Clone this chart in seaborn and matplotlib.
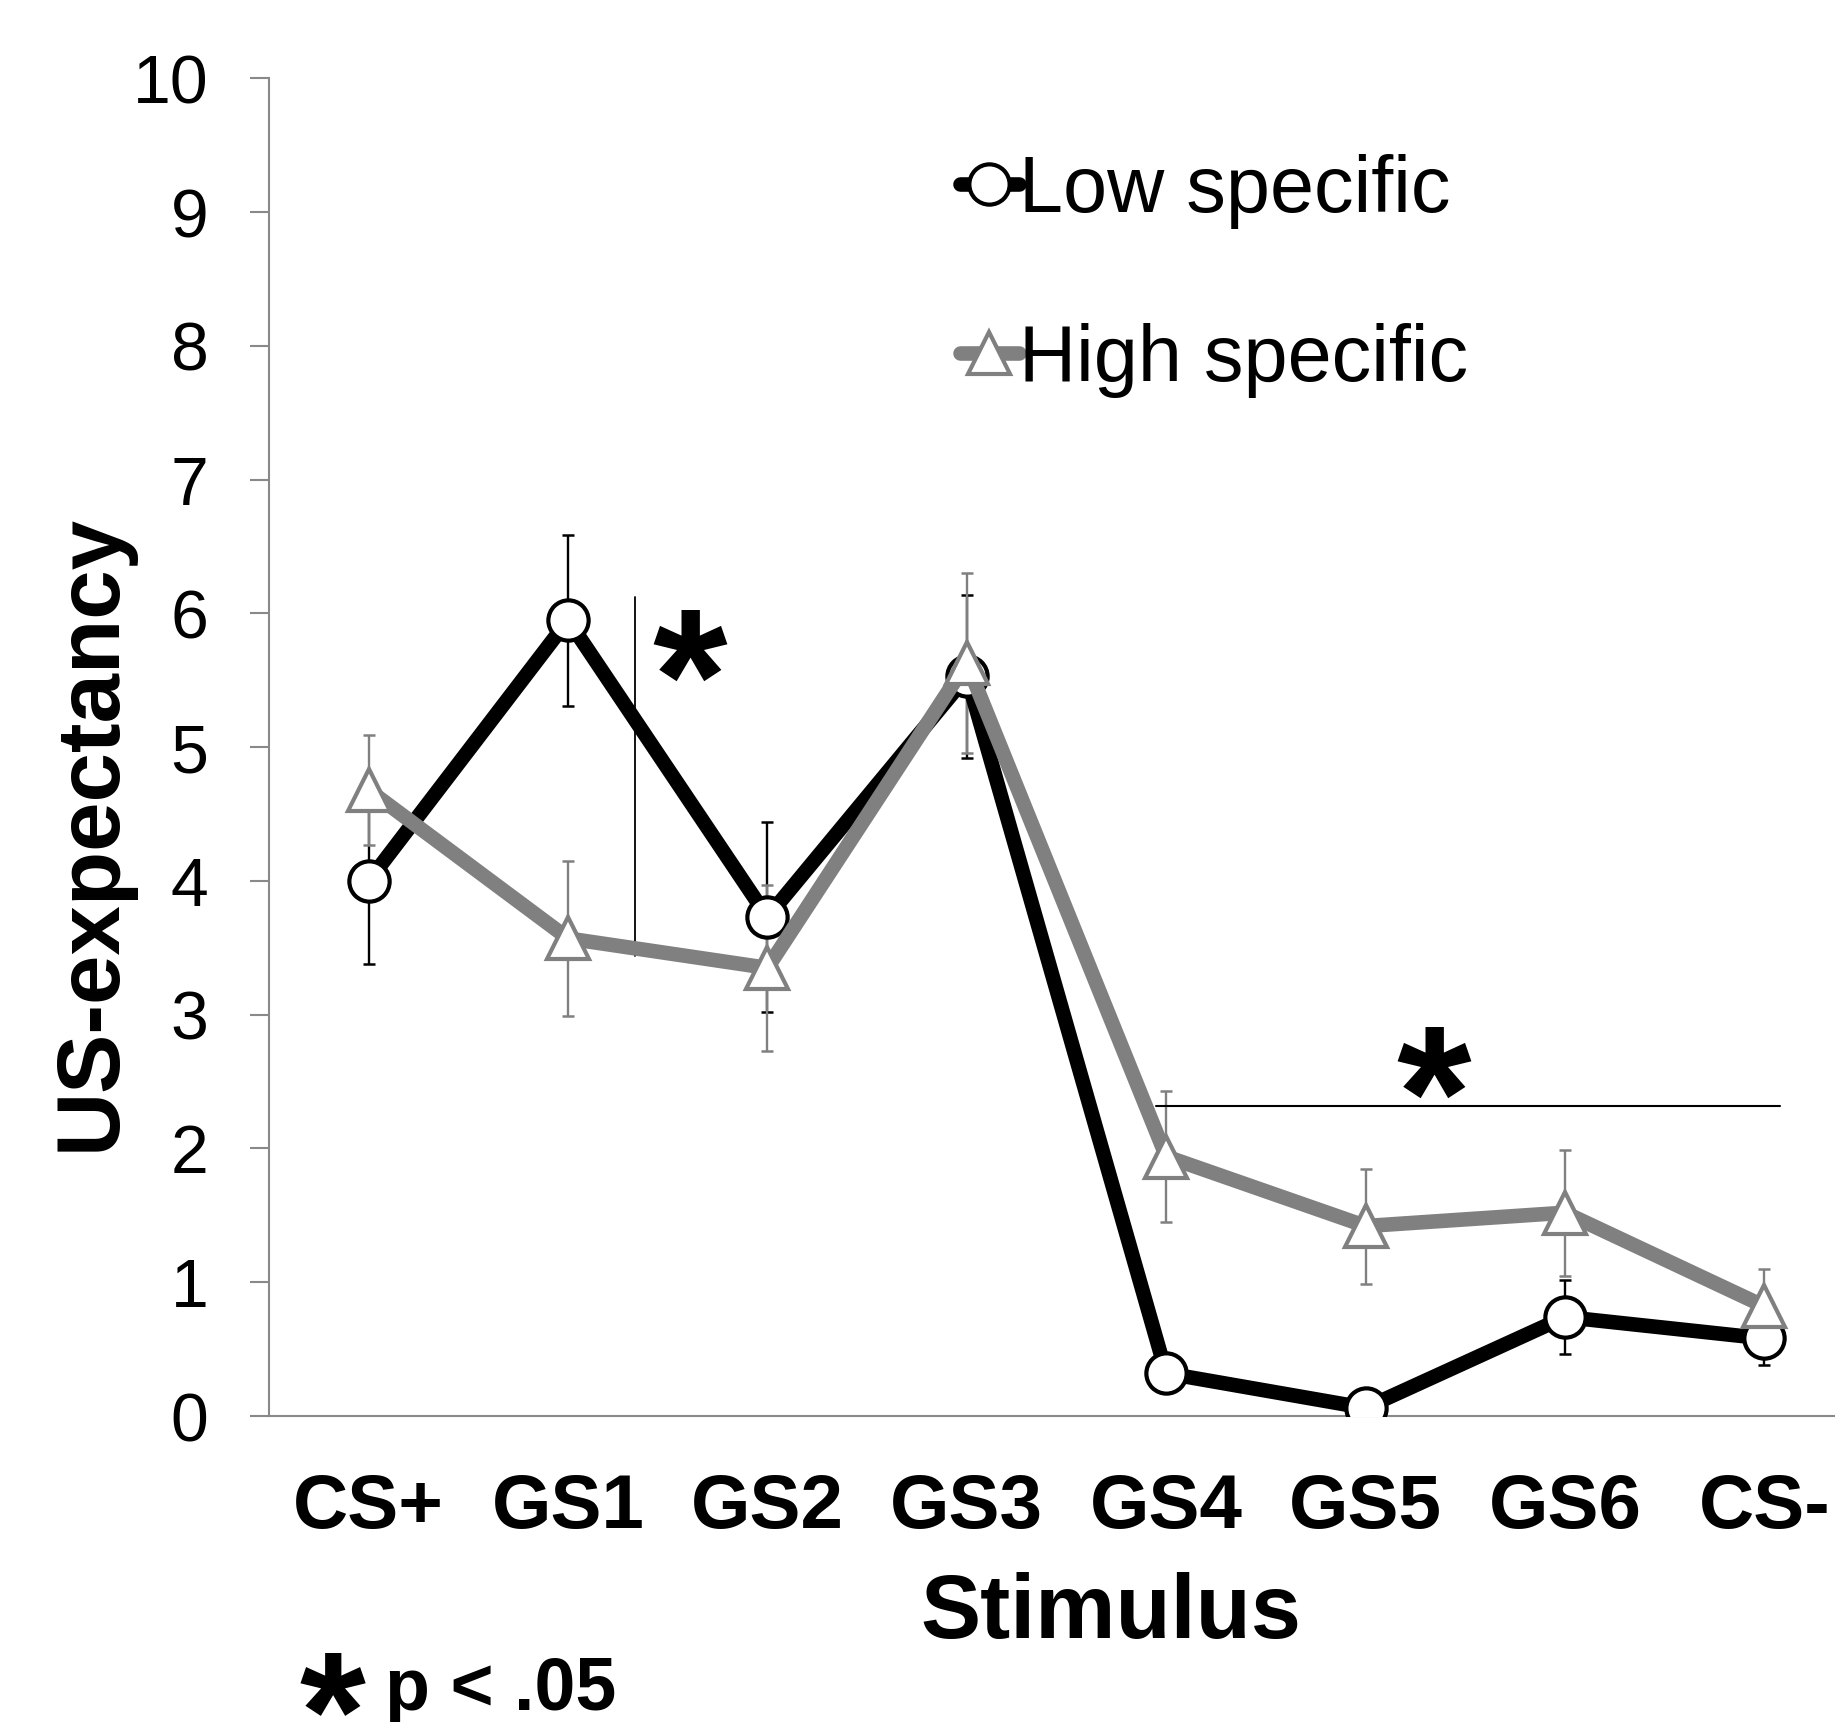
'''
Courbes de generalisation : US-expectancy par stimulus, deux groupes.
'''

import matplotlib
matplotlib.use("Agg")
import matplotlib.pyplot as plt
import numpy as np
import pandas as pd
import seaborn as sns

# Donnees
stimuli = ["CS+", "GS1", "GS2", "GS3", "GS4", "GS5", "GS6", "CS-"]
low_mean = [4.00, 5.95, 3.73, 5.53, 0.32, 0.06, 0.74, 0.58]
low_err = [0.62, 0.64, 0.71, 0.61, 0.12, 0.04, 0.28, 0.20]
high_mean = [4.68, 3.57, 3.35, 5.63, 1.94, 1.42, 1.52, 0.82]
high_err = [0.41, 0.58, 0.62, 0.67, 0.49, 0.43, 0.47, 0.28]

# Annotations de significativite (position en unites de categorie / y)
sig_vline_x = 1.335
sig_vline_y = [3.44, 6.12]
sig_hline_x = [3.95, 7.08]
sig_hline_y = 2.32
star_pos = [(1.61, 5.83), (5.34, 2.71)]

BLACK = "#000000"
GREY = "#808080"
AXIS_GREY = "#898989"

sns.set_theme(style="white")
plt.rcParams["font.family"] = ["Liberation Sans", "DejaVu Sans"]
plt.rcParams["text.color"] = BLACK
plt.rcParams["axes.labelcolor"] = BLACK
plt.rcParams["xtick.color"] = BLACK
plt.rcParams["ytick.color"] = BLACK

xpos = np.arange(len(stimuli))
df = pd.DataFrame({
    "pos": np.concatenate([xpos, xpos]),
    "value": low_mean + high_mean,
    "group": ["Low specific"] * len(stimuli) + ["High specific"] * len(stimuli),
})

fig = plt.figure(figsize=(18.35, 17.22), dpi=100)
ax = fig.add_axes([0.14659, 0.17770, 0.86921, 0.77677])

# barres d'erreur sous les courbes
ax.errorbar(xpos, low_mean, yerr=low_err, fmt="none", ecolor=BLACK,
            elinewidth=1.7, capsize=4.5, capthick=1.8, zorder=1)
ax.errorbar(xpos, high_mean, yerr=high_err, fmt="none", ecolor=GREY,
            elinewidth=1.7, capsize=4.5, capthick=1.8, zorder=1.1)

styles = {
    "Low specific": dict(color=BLACK, marker="o", ms=29),
    "High specific": dict(color=GREY, marker="^", ms=30),
}
for i, (name, st) in enumerate(styles.items()):
    sub = df[df["group"] == name]
    sns.lineplot(data=sub, x="pos", y="value", ax=ax, color=st["color"],
                 marker=st["marker"], markersize=st["ms"], markerfacecolor="white",
                 markeredgecolor=st["color"], markeredgewidth=3.0,
                 linewidth=10.5, label=name, zorder=3 + i, legend=False)

# lignes de significativite
ax.plot([sig_vline_x, sig_vline_x], sig_vline_y, color=BLACK, lw=1.3, zorder=2)
ax.plot(sig_hline_x, [sig_hline_y, sig_hline_y], color=BLACK, lw=1.5, zorder=2)
for sx, sy in star_pos:
    ax.annotate("*", xy=(sx, sy), xytext=(0, -76), textcoords="offset points",
                ha="center", va="baseline", fontsize=138, fontweight="bold")

ax.set_xlim(-0.5, 7.5)
ax.set_ylim(0, 10)
ax.set_yticks(range(0, 11))
ax.set_xticks(xpos)
ax.set_xticklabels(stimuli, fontsize=55, fontweight="bold")
ax.tick_params(axis="y", direction="out", length=14, width=1.5,
               color=AXIS_GREY, labelcolor=BLACK, labelsize=49, pad=29.5,
               left=True)
ax.tick_params(axis="x", length=0, pad=41, labelcolor=BLACK)

for side in ["top", "right"]:
    ax.spines[side].set_visible(False)
for side in ["left", "bottom"]:
    ax.spines[side].set_color(AXIS_GREY)
    ax.spines[side].set_linewidth(1.5)

ax.set_xlabel("Stimulus", fontsize=65, fontweight="bold")
ax.xaxis.set_label_coords(0.528, -0.117)
ax.set_ylabel("US-expectancy", fontsize=64, fontweight="bold")
ax.yaxis.set_label_coords(-0.085, 0.4366)

ax.legend(loc="upper left", bbox_to_anchor=(0.4332, 0.9434), frameon=False,
          fontsize=57, handlelength=0.74, handletextpad=0.0,
          labelspacing=1.18, borderpad=0, borderaxespad=0)

# note de bas de figure
fig.text(332 / 1835, 1 - 1768 / 1722, "*", fontsize=122, fontweight="bold",
         ha="center", va="baseline")
fig.text(385 / 1835, 1 - 1710 / 1722, "p < .05", fontsize=53, fontweight="bold",
         ha="left", va="baseline")

fig.savefig("out.png", dpi=100)
